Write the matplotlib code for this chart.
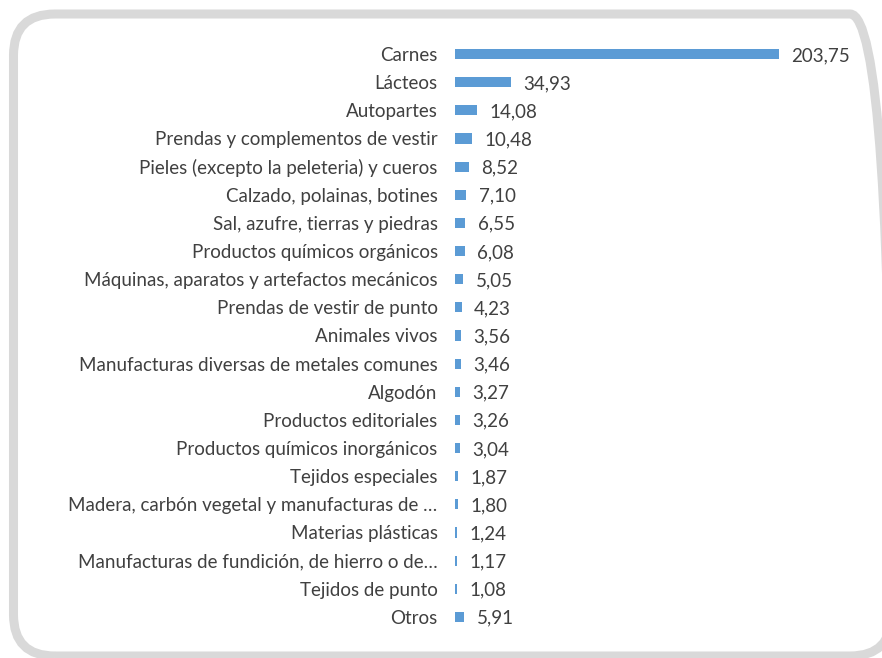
import matplotlib
matplotlib.use("Agg")
import matplotlib.pyplot as plt
from matplotlib.patches import FancyBboxPatch

# exportaciones por capítulo
categorias = [
    "Carnes", "Lácteos", "Autopartes", "Prendas y complementos de vestir",
    "Pieles (excepto la peleteria) y cueros", "Calzado, polainas, botines",
    "Sal, azufre, tierras y piedras", "Productos químicos orgánicos",
    "Máquinas, aparatos y artefactos mecánicos", "Prendas de vestir de punto",
    "Animales vivos", "Manufacturas diversas de metales comunes", "Algodón",
    "Productos editoriales", "Productos químicos inorgánicos", "Tejidos especiales",
    "Madera, carbón vegetal y manufacturas de …", "Materias plásticas",
    "Manufacturas de fundición, de hierro o de…", "Tejidos de punto", "Otros",
]
valores = [203.75, 34.93, 14.08, 10.48, 8.52, 7.10, 6.55, 6.08, 5.05, 4.23,
           3.56, 3.46, 3.27, 3.26, 3.04, 1.87, 1.80, 1.24, 1.17, 1.08, 5.91]

W, H = 882, 658
fig = plt.figure(figsize=(W / 100, H / 100), dpi=100)
plt.rcParams['font.family'] = ['Lato', 'DejaVu Sans']

# marco gris redondeado (el borde derecho queda fuera del lienzo)
marco = FancyBboxPatch((13.5 / W, 2 / H), 878 / W, 642 / H,
                       boxstyle="round,pad=0,rounding_size=0.047",
                       transform=fig.transFigure, facecolor="none",
                       edgecolor="#D9D9D9", linewidth=6.5, mutation_aspect=W / H,
                       zorder=-1)
fig.patches.append(marco)

px_unidad = (779 - 455) / 203.75
xmax = 250
ax = fig.add_axes([455 / W, (H - 631) / H, xmax * px_unidad / W, 591 / H])
ax.set_facecolor("none")

pos = list(range(len(categorias)))
ax.barh(pos, valores, height=0.36, color="#5B9BD5")
ax.set_ylim(len(categorias) - 0.5, -0.5)
ax.set_xlim(0, xmax)
ax.set_yticks(pos)
ax.set_yticklabels(categorias, fontsize=13.5, color="#404040")
ax.tick_params(axis="y", length=0, pad=12.5)
ax.set_xticks([])
for s in ax.spines.values():
    s.set_visible(False)

for i, v in enumerate(valores):
    ax.annotate(f"{v:.2f}".replace(".", ","), (v, i), xytext=(9, -1),
                textcoords="offset points", va="center", ha="left",
                fontsize=13.5, color="#404040")

fig.savefig("out.png", dpi=100)
